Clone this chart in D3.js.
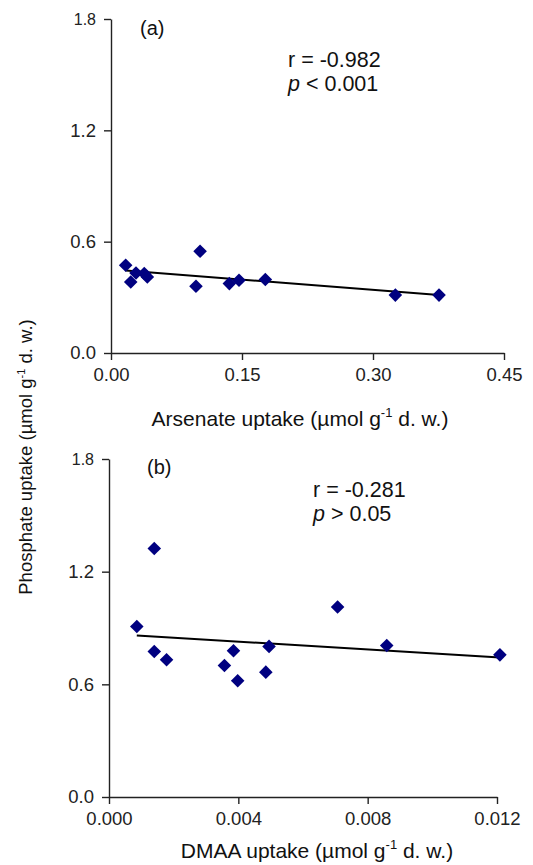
<!DOCTYPE html>
<html>
<head>
<meta charset="utf-8">
<script src="https://cdn.jsdelivr.net/npm/d3@7"></script>
<style>
  html, body { margin: 0; padding: 0; background: #fff; }
  svg { display: block; font-family: "Liberation Sans", Arial, sans-serif; }
</style>
</head>
<body>
<svg id="chart" width="533" height="865"></svg>
<script>
// ---- data ----
const arsenateX = [0.0168, 0.0226, 0.0286, 0.0381, 0.0416, 0.1020, 0.0973, 0.1355, 0.1466, 0.1767, 0.3256, 0.3756];
const phosphateA = [0.473, 0.383, 0.431, 0.428, 0.410, 0.548, 0.360, 0.374, 0.392, 0.396, 0.312, 0.312];
const fitA_x = [0.0168, 0.3756];
const fitA_y = [0.445, 0.312];

const dmaaX = [0.00086, 0.00140, 0.00140, 0.00178, 0.00357, 0.00385, 0.00398, 0.00485, 0.00495, 0.00707, 0.00859, 0.01209];
const phosphateB = [0.908, 1.323, 0.775, 0.731, 0.700, 0.779, 0.619, 0.665, 0.802, 1.012, 0.807, 0.757];
const fitB_x = [0.00086, 0.01209];
const fitB_y = [0.860, 0.743];

const yTicks = [0.0, 0.6, 1.2, 1.8];
const xTicksA = [0.00, 0.15, 0.30, 0.45];
const xTicksB = [0.000, 0.004, 0.008, 0.012];

const svg = d3.select("#chart");
const axisColor = "#222";
const markColor = "#000080";

function panel(cfg) {
  const x = d3.scaleLinear().domain(cfg.xDomain).range(cfg.xRange);
  const y = d3.scaleLinear().domain([0, 1.8]).range(cfg.yRange);
  const g = svg.append("g");

  // y axis
  const ya = g.append("g")
    .attr("transform", `translate(${cfg.xRange[0]},0)`)
    .call(d3.axisLeft(y).tickValues(yTicks).tickFormat(d3.format(".1f")).tickSize(7).tickSizeOuter(0).tickPadding(8));
  // x axis
  const xa = g.append("g")
    .attr("transform", `translate(0,${cfg.yRange[0]})`)
    .call(d3.axisBottom(x).tickValues(cfg.xTicks).tickFormat(d3.format(cfg.xFmt)).tickSize(7).tickSizeOuter(0).tickPadding(cfg.xPad));
  [ya, xa].forEach(a => {
    a.select(".domain").attr("stroke", axisColor).attr("stroke-width", 1.4);
    a.selectAll(".tick line").attr("stroke", axisColor).attr("stroke-width", 1.4);
    a.selectAll(".tick text").attr("fill", "#222").style("font-size", "18.5px");
  });
  ya.selectAll(".tick text").filter(d => d === 1.8).style("font-size", "16px");

  // fit line
  const fit = cfg.fx.map((v, i) => [v, cfg.fy[i]]);
  g.append("path")
    .datum(fit)
    .attr("d", d3.line().x(d => x(d[0])).y(d => y(d[1])))
    .attr("stroke", "#000").attr("stroke-width", 2).attr("fill", "none");

  // points (diamonds)
  const sym = d3.symbol().type(d3.symbolSquare).size(92);
  g.selectAll("path.pt")
    .data(cfg.xs.map((v, i) => [v, cfg.ys[i]]))
    .join("path")
    .attr("class", "pt")
    .attr("d", sym)
    .attr("transform", d => `translate(${x(d[0])},${y(d[1])}) rotate(45)`)
    .attr("fill", markColor);

  // x title
  const t = g.append("text")
    .attr("x", cfg.titleX).attr("y", cfg.titleY)
    .attr("text-anchor", "middle")
    .style("font-size", "21px").attr("fill", "#111");
  t.append("tspan").text(cfg.title);
  t.append("tspan").attr("dy", -9).style("font-size", "13px").text("-1");
  t.append("tspan").attr("dy", 9).text(" d. w.)");

  // panel label & stats
  g.append("text").attr("x", cfg.labX).attr("y", cfg.labY).style("font-size", "20px").attr("fill", "#111").text(cfg.label);
  g.append("text").attr("x", cfg.rX).attr("y", cfg.rY).style("font-size", "21.5px").attr("fill", "#111").text(cfg.rText);
  const p = g.append("text").attr("x", cfg.rX).attr("y", cfg.rY + 24).style("font-size", "21.5px").attr("fill", "#111");
  p.append("tspan").style("font-style", "italic").text("p");
  p.append("tspan").text(cfg.pText);
}

panel({
  xDomain: [0, 0.45], xRange: [111, 504], yRange: [353, 19],
  xTicks: xTicksA, xFmt: ".2f", xPad: 8,
  xs: arsenateX, ys: phosphateA, fx: fitA_x, fy: fitA_y,
  title: "Arsenate uptake (µmol g", titleX: 300, titleY: 426,
  label: "(a)", labX: 140, labY: 35,
  rText: "r = -0.982", pText: " < 0.001", rX: 288, rY: 67
});

panel({
  xDomain: [0, 0.012], xRange: [109, 497], yRange: [797, 459],
  xTicks: xTicksB, xFmt: ".3f", xPad: 8,
  xs: dmaaX, ys: phosphateB, fx: fitB_x, fy: fitB_y,
  title: "DMAA uptake (µmol g", titleX: 317, titleY: 858,
  label: "(b)", labX: 147, labY: 474,
  rText: "r = -0.281", pText: " > 0.05", rX: 313, rY: 497
});

// shared y title
const yt = svg.append("text")
  .attr("transform", "translate(32,457) rotate(-90)")
  .attr("text-anchor", "middle")
  .style("font-size", "18.5px").attr("fill", "#111");
yt.append("tspan").text("Phosphate uptake (µmol g");
yt.append("tspan").attr("dy", -7).style("font-size", "11px").text("-1");
yt.append("tspan").attr("dy", 7).text(" d. w.)");
</script>
</body>
</html>
